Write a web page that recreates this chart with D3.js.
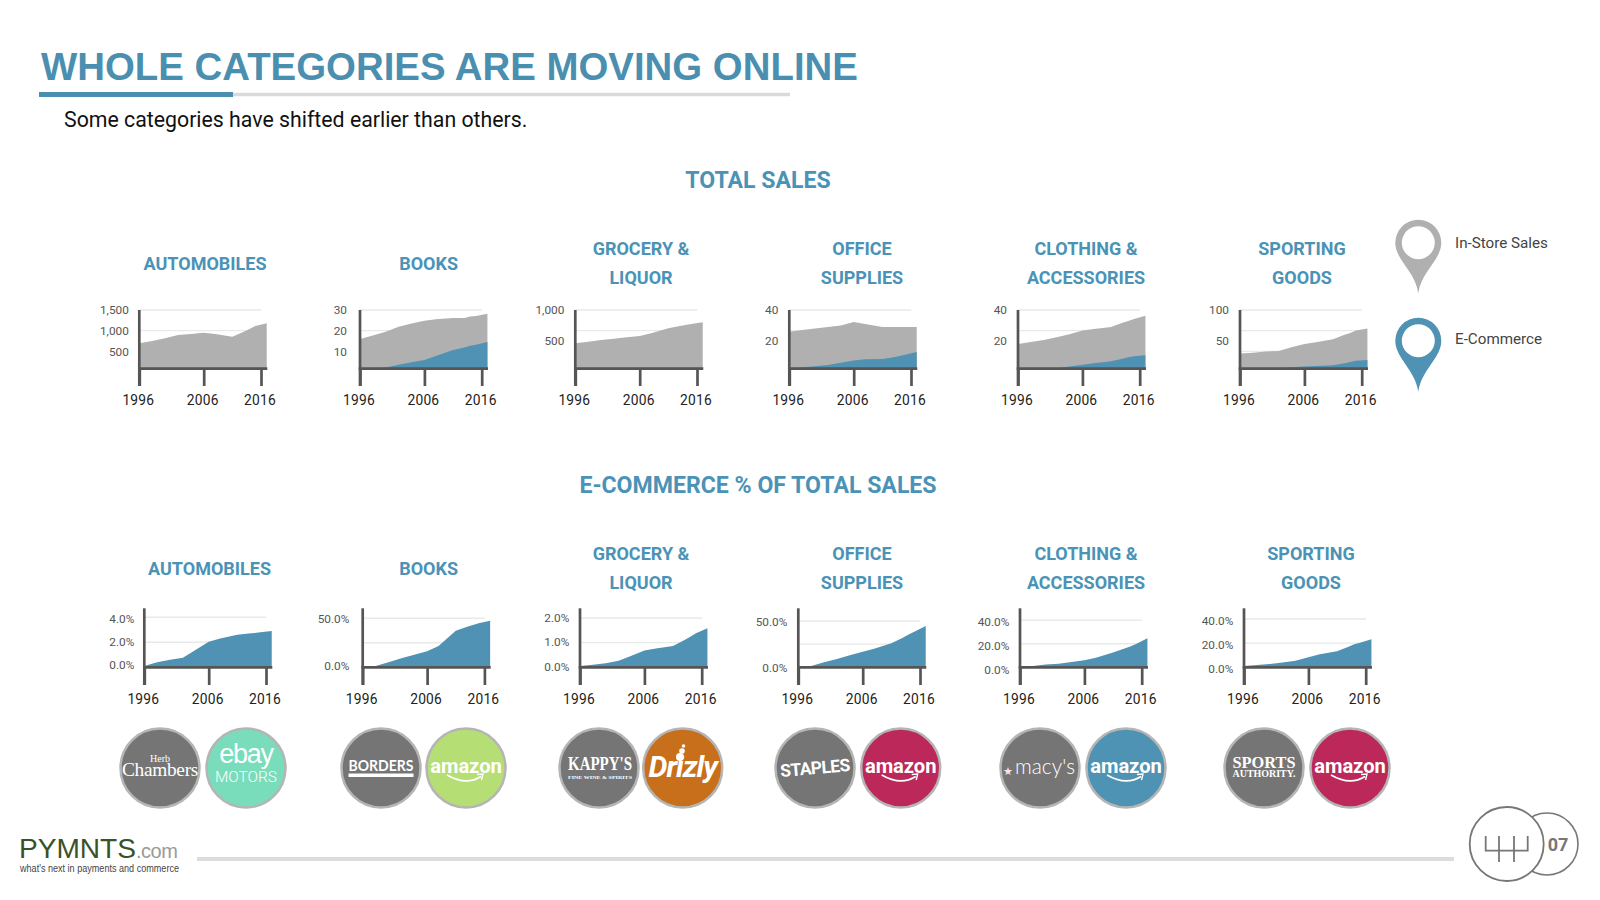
<!DOCTYPE html>
<html>
<head>
<meta charset="utf-8">
<title>Whole categories are moving online</title>
<script src="https://cdn.jsdelivr.net/npm/d3@7"></script>
<style>
  html, body { margin: 0; padding: 0; background: #fff; }
  svg { display: block; font-family: Roboto, sans-serif; }
</style>
</head>
<body>
<svg id="chart" width="1600" height="900"></svg>
<script>
// data
var years = [1996, 1998, 2000, 2002, 2004, 2006, 2008, 2011, 2013, 2014, 2015, 2017];
var yearTicks = [1996, 2006, 2016];

var autoTotal = [694, 750, 815, 895, 919, 952, 919, 855, 976, 1040, 1113, 1177];
var booksTotal = [16, 17.7, 19.5, 21.9, 23.5, 24.8, 25.5, 26.1, 26.1, 26.8, 27.1, 28.2];
var booksEcom = [0.3, 1, 2.2, 3.5, 4.7, 5.8, 7.7, 10.6, 11.9, 12.7, 13.2, 14.5];
var groceryTotal = [462, 489, 516, 538, 559, 581, 624, 704, 742, 758, 774, 801];
var officeTotal = [26, 27.1, 28, 29, 30, 32.3, 31, 29, 29, 29, 29, 29];
var officeEcom = [2.4, 3, 3.7, 4.5, 6, 7.5, 8.2, 8.4, 9.5, 10.3, 11.2, 12.9];
var clothingTotal = [18, 19.4, 20.6, 22.4, 24.3, 26.7, 27.7, 29, 31.8, 32.9, 34.2, 36.3];
var clothingEcom = [0.5, 1, 1.5, 2.1, 3.6, 4.7, 5.6, 6.9, 8.6, 9.5, 10.1, 10.8];
var sportingTotal = [30, 31, 33, 34, 40, 45, 48, 53, 60, 63, 67, 70];
var sportingEcom = [2, 3, 4, 6, 7.5, 9, 9.7, 11, 14, 16, 18, 19.4];

var autoShare = [0, 0.4, 0.6, 0.77, 1.4, 2.05, 2.3, 2.6, 2.7, 2.75, 2.8, 2.9];
var booksShare = [0, 1, 5.1, 9.2, 12.9, 16.3, 21.8, 37.4, 41.5, 43.2, 44.9, 47.6];
var groceryShare = [0.05, 0.1, 0.16, 0.27, 0.47, 0.68, 0.76, 0.86, 1.11, 1.24, 1.38, 1.58];
var officeShare = [0, 1.4, 5.4, 9, 13, 16.9, 20, 26, 32, 35.3, 38.5, 44.6];
var clothingShare = [0, 0.85, 2.3, 3.1, 4.5, 6, 8.2, 12.5, 15.9, 17.6, 19.9, 24.7];
var sportingShare = [0, 1.9, 2.8, 3.9, 5.5, 8.3, 10.8, 13.2, 17.1, 19, 20.4, 23.2];

var topTitles = [["AUTOMOBILES"], ["BOOKS"], ["GROCERY &", "LIQUOR"], ["OFFICE", "SUPPLIES"], ["CLOTHING &", "ACCESSORIES"], ["SPORTING", "GOODS"]];
var topTotals = [autoTotal, booksTotal, groceryTotal, officeTotal, clothingTotal, sportingTotal];
var topEcoms = [null, booksEcom, null, officeEcom, clothingEcom, sportingEcom];
var topMax = [1500, 30, 1000, 40, 40, 100];
var topLabels = [[1500, 1000, 500], [30, 20, 10], [1000, 500], [40, 20], [40, 20], [100, 50]];
var topGrid = [[1500, 1000, 500], [30, 20, 10], [1000, 667, 333], [40, 26.7, 13.3], [40, 26.7, 13.3], [100, 66.7, 33.3]];

var shareSeries = [autoShare, booksShare, groceryShare, officeShare, clothingShare, sportingShare];
var shareMax = [4, 50, 2, 50, 40, 40];
var shareLabels = [[4, 2, 0], [50, 0], [2, 1, 0], [50, 0], [40, 20, 0], [40, 20, 0]];
var shareGrid = [[4, 2], [50, 25], [2, 1], [50, 25], [40, 20], [40, 20]];

// layout
var blue = "#4f92b3", gray = "#b0b0b0", axisColor = "#555", titleBlue = "#4b93b6";
var yearRange = [0, 64.4, 121.7];
var topAxisX = [139.3, 360, 575.3, 789.3, 1018, 1240];
var topPad = [10.5, 13, 11, 11, 11, 11];
var topTitleX = [205, 428.6, 641, 862, 1086, 1302];
var bottomAxisX = [144.3, 362.7, 580, 798.3, 1020, 1244];
var bottomPad = [10, 13.4, 10.7, 11, 10.7, 10.7];
var bottomTitleX = [209.5, 428.6, 641, 862, 1086, 1311];
var shareTopY = [617.3, 618.3, 618, 621, 620.3, 619];
var labelZeroY = [664.7, 666, 666.3, 667.3, 669.3, 668.3];
var labelTopY = [619, 619, 617.7, 621.7, 621.7, 621];

var svg = d3.select("#chart");
var x = d3.scaleLinear().domain(yearTicks).range(yearRange);

function drawGrid(g, gridY, gridVals) {
    g.selectAll("line.grid").data(gridVals).enter().append("line")
        .attr("class", "grid")
        .attr("x1", 0).attr("x2", 122)
        .attr("y1", d => gridY(d)).attr("y2", d => gridY(d))
        .attr("stroke", "#e9e9e9").attr("stroke-width", 1.4);
}

function drawAxes(g, baseY, topY, bottomY, yLabelScale, labels, pad, fmt) {
    var xAxis = d3.axisBottom(x).tickValues(yearTicks).tickSize(bottomY - baseY).tickPadding(9.5).tickFormat(d3.format("d"));
    var gx = g.append("g").attr("transform", "translate(0," + baseY + ")").call(xAxis);
    gx.select(".domain").remove();
    gx.selectAll("line").attr("stroke", axisColor).attr("stroke-width", 2.7);
    gx.selectAll("text").attr("font-size", 13.8).attr("fill", "#222").attr("dx", -1.5)
        .attr("font-family", "Roboto").style("letter-spacing", "0.2px");

    var yAxis = d3.axisLeft(yLabelScale).tickValues(labels).tickSize(0).tickPadding(pad).tickFormat(fmt);
    var gy = g.append("g").call(yAxis);
    gy.select(".domain").remove();
    gy.selectAll("text").attr("font-size", 11.8).attr("fill", "#555").attr("font-family", "Roboto");

    g.append("line").attr("x1", 0).attr("x2", 0).attr("y1", topY).attr("y2", bottomY)
        .attr("stroke", axisColor).attr("stroke-width", 2.7);
    g.append("line").attr("x1", -1.3).attr("x2", 128).attr("y1", baseY).attr("y2", baseY)
        .attr("stroke", axisColor).attr("stroke-width", 2.7);
}

function drawArea(g, series, y, baseY, color) {
    var area = d3.area()
        .x((d, i) => x(years[i]))
        .y0(baseY)
        .y1(d => Math.min(y(d), baseY));
    g.append("path").datum(series).attr("d", area).attr("fill", color);
}

function chartTitle(lines, cx, y1, y2) {
    var ys = lines.length === 1 ? [(y1 + y2) / 2] : [y1, y2];
    lines.forEach(function(line, i) {
        svg.append("text").text(line)
            .attr("x", cx).attr("y", ys[i]).attr("dy", "0.35em")
            .attr("text-anchor", "middle")
            .attr("font-size", 18).attr("font-weight", 700).attr("fill", titleBlue);
    });
}

// top row: total sales
topTotals.forEach(function(total, i) {
    var g = svg.append("g").attr("transform", "translate(" + topAxisX[i] + ",0)");
    var y = d3.scaleLinear().domain([0, topMax[i]]).range([372, 310]);
    drawGrid(g, y, topGrid[i]);
    drawArea(g, total, y, 368, gray);
    if (topEcoms[i]) drawArea(g, topEcoms[i], y, 368, blue);
    drawAxes(g, 368.7, 310, 386, y, topLabels[i], topPad[i], d3.format(","));
    chartTitle(topTitles[i], topTitleX[i], 249, 277.5);
});

// bottom row: e-commerce share
shareSeries.forEach(function(series, i) {
    var g = svg.append("g").attr("transform", "translate(" + bottomAxisX[i] + ",0)");
    var y = d3.scaleLinear().domain([0, shareMax[i]]).range([667.3, shareTopY[i]]);
    var yLabel = d3.scaleLinear().domain([0, shareMax[i]]).range([labelZeroY[i], labelTopY[i]]);
    drawGrid(g, y, shareGrid[i]);
    drawArea(g, series, y, 666, blue);
    drawAxes(g, 667.3, 608.3, 685, yLabel, shareLabels[i], bottomPad[i], d => d3.format(".1f")(d) + "%");
    chartTitle(topTitles[i], bottomTitleX[i], 554, 582.6);
});

// heading
svg.append("text").text("WHOLE CATEGORIES ARE MOVING ONLINE")
    .attr("x", 41).attr("y", 79.5)
    .attr("font-family", "Liberation Sans").attr("font-weight", 700).attr("font-size", 38.4)
    .attr("fill", "#4b8fb0");
svg.append("line").attr("x1", 233).attr("x2", 790).attr("y1", 94.5).attr("y2", 94.5).attr("stroke", "#d9d9d9").attr("stroke-width", 3.5);
svg.append("line").attr("x1", 39).attr("x2", 233).attr("y1", 94.5).attr("y2", 94.5).attr("stroke", "#4b8fb0").attr("stroke-width", 5);
svg.append("text").text("Some categories have shifted earlier than others.")
    .attr("x", 64).attr("y", 127).attr("font-size", 21.3).attr("fill", "#111");

[["TOTAL SALES", 180], ["E-COMMERCE % OF TOTAL SALES", 485]].forEach(function(s) {
    svg.append("text").text(s[0]).attr("x", 758).attr("y", s[1]).attr("dy", "0.35em")
        .attr("text-anchor", "middle").attr("font-size", 23.1).attr("font-weight", 700).attr("fill", titleBlue);
});

// legend pins
function pin(cx, cy, R, r, tip, color, label, labelY) {
    var d = "M" + (cx - R) + "," + cy +
        "A" + R + "," + R + " 0 1 1 " + (cx + R) + "," + cy +
        "C" + (cx + R) + "," + (cy + R * 0.75) + " " + (cx + 3) + "," + (tip - 22) + " " + cx + "," + tip +
        "C" + (cx - 3) + "," + (tip - 22) + " " + (cx - R) + "," + (cy + R * 0.75) + " " + (cx - R) + "," + cy + "Z" +
        "M" + (cx - r) + "," + cy +
        "A" + r + "," + r + " 0 1 0 " + (cx + r) + "," + cy +
        "A" + r + "," + r + " 0 1 0 " + (cx - r) + "," + cy + "Z";
    svg.append("path").attr("d", d).attr("fill", color).attr("fill-rule", "evenodd");
    svg.append("text").text(label).attr("x", 1455).attr("y", labelY).attr("dy", "0.35em")
        .attr("font-size", 15.2).attr("fill", "#444");
}
pin(1418.3, 242.7, 23, 16.5, 293.3, gray, "In-Store Sales", 243);
pin(1418.3, 340.7, 23, 16.5, 391.7, blue, "E-Commerce", 339);

// retailer badges
var badgeX = [160, 246, 381, 466, 599, 682.7, 815, 900.7, 1040, 1126, 1264, 1350];
var badgeFill = ["#757575", "#79dcbb", "#757575", "#b5de75", "#757575", "#c76f1b", "#757575", "#bb2859", "#757575", "#4f93b4", "#757575", "#bb2859"];

svg.selectAll("circle.badge").data(badgeX).enter().append("circle")
    .attr("class", "badge")
    .attr("cx", d => d).attr("cy", 768).attr("r", 39.5)
    .attr("fill", (d, i) => badgeFill[i])
    .attr("stroke", "#b5b5b5").attr("stroke-width", 2.5);

function logo(cx, dy, str, size, opts) {
    opts = opts || {};
    var t = svg.append("text").text(str)
        .attr("x", cx).attr("y", 768 + dy)
        .attr("text-anchor", "middle")
        .attr("font-family", opts.font || "Roboto")
        .attr("font-size", size)
        .attr("font-weight", opts.weight || 400)
        .attr("font-style", opts.style || "normal")
        .attr("letter-spacing", opts.spacing || 0)
        .attr("fill", opts.fill || "#fff");
    if (opts.fit) t.attr("textLength", opts.fit).attr("lengthAdjust", "spacingAndGlyphs");
    return t;
}
function amazon(cx) {
    logo(cx, 5, "amazon", 20.2, { weight: 700, spacing: "-0.1px" });
    svg.append("path")
        .attr("d", "M" + (cx - 19) + ",775 Q" + cx + ",786 " + (cx + 15) + ",776.5")
        .attr("fill", "none").attr("stroke", "#fff").attr("stroke-width", 1.6);
    svg.append("path")
        .attr("d", "M" + (cx + 11) + ",774.5 L" + (cx + 17) + ",774 L" + (cx + 15.5) + ",780")
        .attr("fill", "none").attr("stroke", "#fff").attr("stroke-width", 1.4);
}

logo(160, -6, "Herb", 10, { font: "Liberation Serif" });
logo(160, 7.5, "Chambers", 19.5, { font: "Liberation Serif", spacing: "-0.3px", fit: 76 });
logo(246, -5, "ebay", 27, { font: "Liberation Sans", spacing: "-1.2px" });
logo(246, 14, "MOTORS", 15, { weight: 300, fit: 62 });
logo(381, 3, "BORDERS", 15.5, { font: "Lato", weight: 700, fit: 65 });
svg.append("rect").attr("x", 348.5).attr("y", 773.5).attr("width", 65).attr("height", 3.5).attr("fill", "#fff");
amazon(466);
logo(600, 2, "KAPPY'S", 18, { font: "Liberation Serif", weight: 700, fit: 64 });
logo(600, 11, "FINE WINE & SPIRITS", 5, { font: "Liberation Serif", weight: 700, fit: 64 });
logo(682.7, 9, "Drizly", 30, { weight: 700, style: "italic", spacing: "-1px" });
svg.append("circle").attr("cx", 682).attr("cy", 751).attr("r", 2.8).attr("fill", "#fff");
svg.append("circle").attr("cx", 683.5).attr("cy", 746).attr("r", 1.8).attr("fill", "#fff");
svg.append("circle").attr("cx", 680).attr("cy", 757).attr("r", 4).attr("fill", "#fff");
logo(815, 6, "STAPLES", 17.5, { weight: 700, spacing: "-0.6px" })
    .attr("transform", "rotate(-5 815 768)");
amazon(900.7);
logo(1008, 7, "★", 11, { fill: "#fbe4ea" });
logo(1045, 6, "macy's", 21, { font: "Lato", weight: 300, fit: 60 });
amazon(1126);
logo(1264, 0, "SPORTS", 16, { font: "Liberation Serif", weight: 700, fit: 63 });
logo(1264, 9, "AUTHORITY.", 10, { font: "Liberation Serif", weight: 700, fit: 63 });
amazon(1350);

// footer
svg.append("text").text("PYMNTS").attr("x", 19).attr("y", 858)
    .attr("font-family", "Liberation Sans").attr("font-size", 28.5)
    .attr("textLength", 117).attr("lengthAdjust", "spacingAndGlyphs").attr("fill", "#3a5226");
svg.append("text").text(".com").attr("x", 136).attr("y", 858)
    .attr("font-family", "Liberation Sans").attr("font-size", 20).attr("letter-spacing", "-0.5px").attr("fill", "#9a9a9a");
svg.append("text").text("what's next in payments and commerce").attr("x", 20).attr("y", 872)
    .attr("font-family", "Liberation Sans").attr("font-size", 10.5).attr("fill", "#444")
    .attr("textLength", 159).attr("lengthAdjust", "spacingAndGlyphs");
svg.append("line").attr("x1", 197).attr("x2", 1454).attr("y1", 859).attr("y2", 859)
    .attr("stroke", "#dcdcdc").attr("stroke-width", 4);

// page mark
svg.append("circle").attr("cx", 1547).attr("cy", 844).attr("r", 31).attr("fill", "#fff").attr("stroke", "#777").attr("stroke-width", 1.6);
svg.append("circle").attr("cx", 1506.7).attr("cy", 844).attr("r", 37).attr("fill", "#fff").attr("stroke", "#777").attr("stroke-width", 1.8);
svg.append("path")
    .attr("d", "M1485.7,836V850.7H1527.7V836M1499,836V862M1514,836V862")
    .attr("fill", "none").attr("stroke", "#777").attr("stroke-width", 1.8);
svg.append("text").text("07").attr("x", 1558).attr("y", 845).attr("dy", "0.35em")
    .attr("text-anchor", "middle").attr("font-size", 18).attr("font-weight", 700).attr("fill", "#777");
</script>
</body>
</html>
